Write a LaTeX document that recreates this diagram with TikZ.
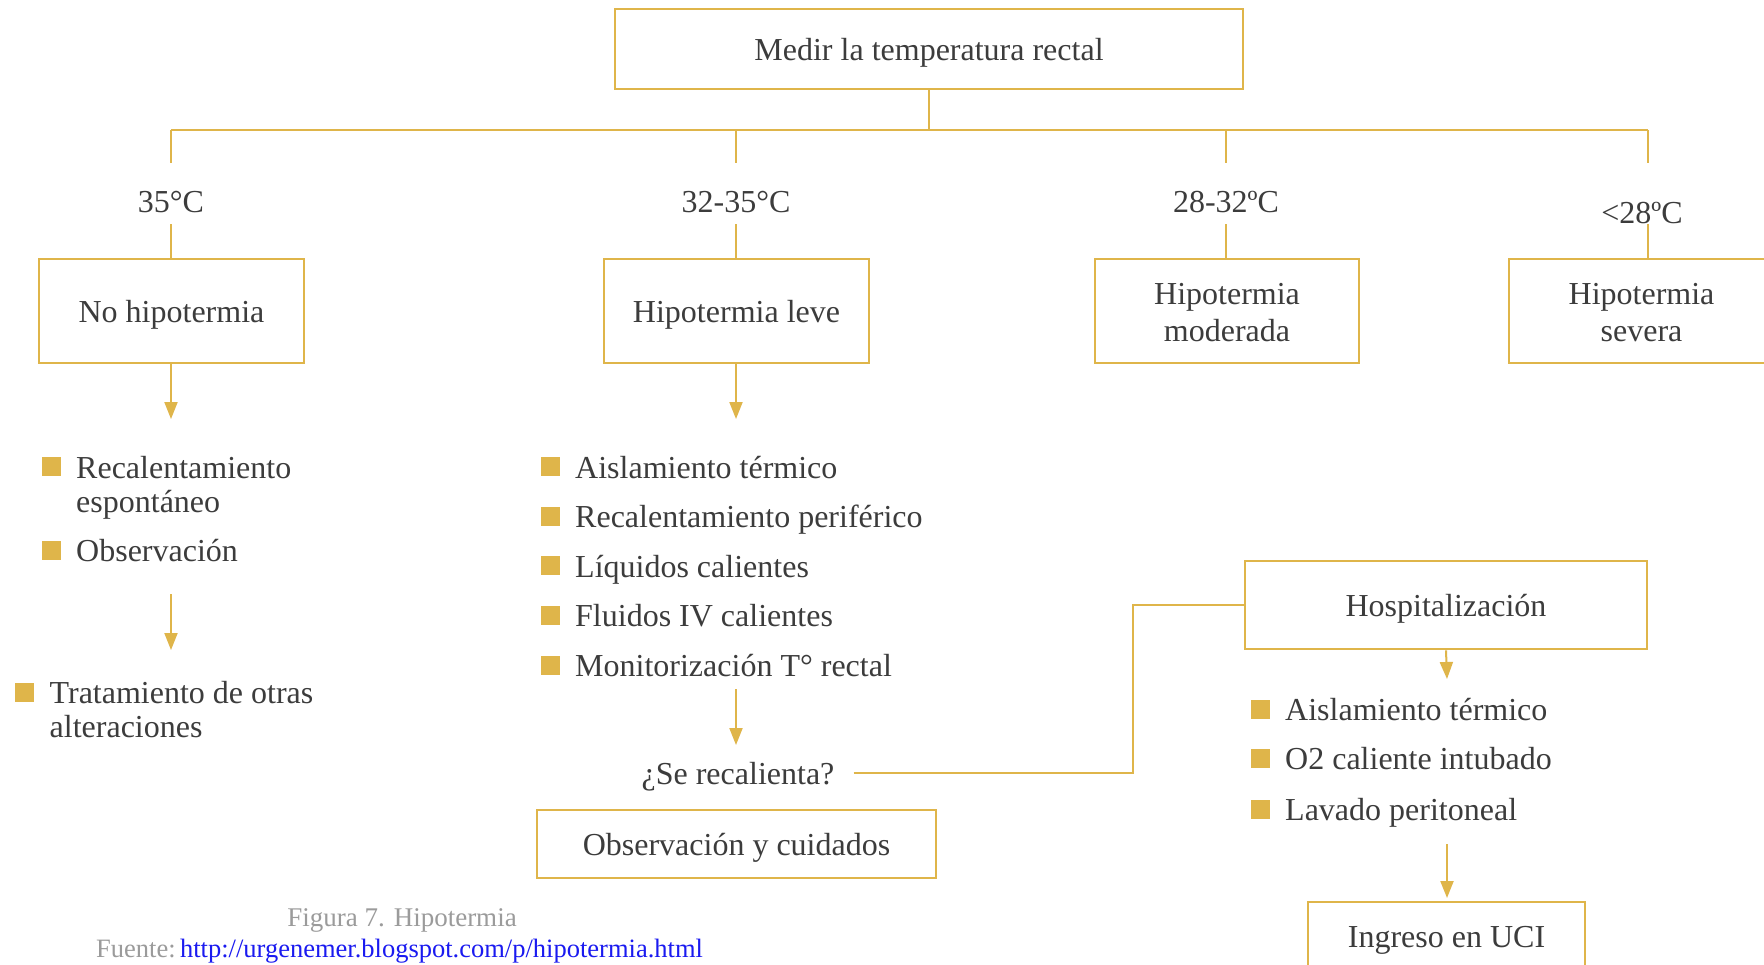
\documentclass[tikz,border=0pt]{standalone}
\usepackage{fontspec}
\setmainfont{Liberation Serif}
\usetikzlibrary{arrows.meta}
\definecolor{gold}{HTML}{DFB54A}
\definecolor{ink}{HTML}{3C3C3C}
\definecolor{capgray}{HTML}{9B9B9B}
\definecolor{linkblue}{HTML}{1A1AF0}

\begin{document}
\begin{tikzpicture}[x=1pt,y=-1pt,
  every node/.style={text=ink, font=\fontsize{32}{36}\selectfont},
  box/.style={draw=gold, line width=2.7pt, align=center, inner sep=0pt},
  oneline/.style={text height=23pt, text depth=0pt},
  link/.style={draw=gold, line width=2pt},
  arr/.style={link, -{Triangle[length=17pt,width=13pt]}},
  sq/.style={fill=gold, draw=none, minimum size=19pt, inner sep=0pt},
  item/.style={anchor=base west, inner sep=0pt},
  item2/.style={anchor=west, inner sep=0pt, align=left, font=\fontsize{32}{34}\selectfont},
  temp/.style={inner sep=0pt, minimum height=61pt, text depth=0pt},
  caption/.style={font=\fontsize{27}{30}\selectfont, text=capgray, inner sep=0pt}
]
\useasboundingbox (0,0) rectangle (1764,964);
\fill[white] (0,0) rectangle (1764,964);

% root and branching bar
\node[box, oneline, minimum width=628pt, minimum height=80pt] (top) at (929,49) {Medir la temperatura rectal};
\coordinate (bar) at (929,130);
\coordinate (b1) at (171,130);
\coordinate (b2) at (736,130);
\coordinate (b3) at (1226,130);
\coordinate (b4) at (1648,130);
\draw[link] (top.south) -- (bar);
\draw[link] (b1) -- (b4);

% temperature ranges
\node[temp, text height=37pt] (t1) at (171,193.5) {35°C};
\node[temp, text height=37pt] (t2) at (736,193.5) {32-35°C};
\node[temp, text height=37pt] (t3) at (1226,193.5) {28-32ºC};
\node[temp, text height=59pt] (t4) at (1642,193.5) {<28ºC};
\draw[link] (b1) -- (b1 |- t1.north);
\draw[link] (b2) -- (b2 |- t2.north);
\draw[link] (b3) -- (b3 |- t3.north);
\draw[link] (b4) -- (b4 |- t4.north);

% classification boxes
\node[box, oneline, minimum width=265pt, minimum height=104pt] (nohip) at (171.5,311) {No hipotermia};
\node[box, oneline, minimum width=265pt, minimum height=104pt] (leve) at (736.5,311) {Hipotermia leve};
\node[box, minimum width=264pt, minimum height=104pt] (mod) at (1227,311) {};
\node[box, minimum width=265pt, minimum height=104pt] (sev) at (1641.5,311) {};
\node[align=center, inner sep=0pt] (modt) at (1227,313) {Hipotermia\\[1pt]moderada};
\node[align=center, inner sep=0pt] (sevt) at (1641.5,313) {Hipotermia\\[1pt]severa};
\draw[link] (b1 |- t1.south) -- (b1 |- nohip.north);
\draw[link] (b2 |- t2.south) -- (b2 |- leve.north);
\draw[link] (b3 |- t3.south) -- (b3 |- mod.north);
\draw[link] (b4 |- t4.south) -- (b4 |- sev.north);

% no hypothermia branch
\coordinate (a1) at (171,419);
\draw[arr] (b1 |- nohip.south) -- (a1);
\node[sq] (s1) at (51,466) {};
\node[item2] (i1) at (76,487.5) {Recalentamiento\\espontáneo};
\node[sq] (s2) at (51,550) {};
\node[item] (i2) at (76,561) {Observación};
\coordinate (a3) at (171,594);
\coordinate (a4) at (171,650);
\draw[arr] (a3) -- (a4);
\node[sq] (s3) at (24.5,692) {};
\node[item2] (i3) at (49.5,710) {Tratamiento de otras\\alteraciones};

% mild hypothermia branch
\coordinate (a2) at (736,419);
\draw[arr] (b2 |- leve.south) -- (a2);
\node[sq] (m1) at (550.5,466) {};
\node[item] (n1) at (575,478) {Aislamiento térmico};
\node[sq] (m2) at (550.5,516) {};
\node[item] (n2) at (575,527.5) {Recalentamiento periférico};
\node[sq] (m3) at (550.5,565) {};
\node[item] (n3) at (575,577) {Líquidos calientes};
\node[sq] (m4) at (550.5,615) {};
\node[item] (n4) at (575,626.5) {Fluidos IV calientes};
\node[sq] (m5) at (550.5,665) {};
\node[item] (n5) at (575,676.5) {Monitorización T° rectal};
\coordinate (a5) at (736,689);
\coordinate (a6) at (736,745);
\draw[arr] (a5) -- (a6);
\node[oneline, inner sep=0pt, inner xsep=19pt] (q) at (738,773) {¿Se recalienta?};
\node[box, oneline, minimum width=399pt, minimum height=68pt] (obs) at (736.5,844) {Observación y cuidados};

% hospital branch
\node[box, oneline, minimum width=402pt, minimum height=88pt] (hosp) at (1446,605) {Hospitalización};
\coordinate (j) at (1133,605);
\draw[link] (q.east) -| (j) -- (hosp.west);
\coordinate (a7) at (1447,679);
\draw[arr] (hosp.south) -- (a7);
\node[sq] (h1) at (1260,709) {};
\node[item] (k1) at (1285,720) {Aislamiento térmico};
\node[sq] (h2) at (1260,758) {};
\node[item] (k2) at (1285,769) {O2 caliente intubado};
\node[sq] (h3) at (1260,809) {};
\node[item] (k3) at (1285,820.5) {Lavado peritoneal};
\coordinate (a8) at (1447,844);
\coordinate (a9) at (1447,898);
\draw[arr] (a8) -- (a9);
\node[box, oneline, minimum width=277pt, minimum height=68pt] (uci) at (1446.5,936) {Ingreso en UCI};

% figure caption
\node[caption] (cap) at (402,920) {Figura 7. Hipotermia};
\node[caption, anchor=west, font=\fontsize{26.5}{30}\selectfont] (src) at (96,951) {Fuente:\,\textcolor{linkblue}{http://urgenemer.blogspot.com/p/hipotermia.html}};
\end{tikzpicture}
\end{document}
